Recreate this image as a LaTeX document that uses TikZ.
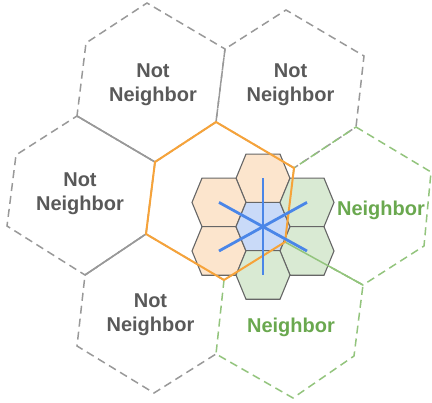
\documentclass[tikz,border=0pt]{standalone}
\usepackage{fontspec}
\setmainfont{Liberation Sans}
\definecolor{linegray}{HTML}{999999}
\definecolor{linegreen}{HTML}{93C47D}
\definecolor{lineorange}{HTML}{F6A33A}
\definecolor{starblue}{HTML}{4A86E8}
\definecolor{textgray}{HTML}{595959}
\definecolor{textgreen}{HTML}{6AA84F}
\definecolor{cellorange}{HTML}{FCE5CD}
\definecolor{cellgreen}{HTML}{D9EAD3}
\definecolor{cellblue}{HTML}{C9DAF8}
\newcommand{\lblfont}{\fontsize{20}{24.5}\selectfont\bfseries}

\begin{document}
\begin{tikzpicture}[x=1pt,y=-1pt,
	notedge/.style={draw=linegray,line width=1.5pt,dash pattern=on 8pt off 5pt},
	nbedge/.style={draw=linegreen,line width=1.5pt,dash pattern=on 8pt off 5pt},
	cell/.style={draw=black!60,line width=1.1pt},
	lbl/.style={font=\lblfont,text=textgray,align=center,inner sep=0pt}]
	\useasboundingbox (0,0) rectangle (432,403);
	% corners of the big cells
	\coordinate (A) at (147,3);   \coordinate (B) at (225,49);
	\coordinate (C) at (86,43);   \coordinate (D) at (77,116);
	\coordinate (E) at (216,122); \coordinate (F) at (155,162);
	\coordinate (G) at (286,10);  \coordinate (H) at (364,56);
	\coordinate (I) at (356,127); \coordinate (J) at (294,168);
	\coordinate (K) at (16,155);  \coordinate (L) at (7,226);
	\coordinate (M) at (85,275);  \coordinate (N) at (146,234);
	\coordinate (O) at (285,242); \coordinate (P) at (224,280);
	\coordinate (Q) at (431,172); \coordinate (R) at (424,246);
	\coordinate (S) at (363,285); \coordinate (T) at (354,356);
	\coordinate (U) at (293,398); \coordinate (V) at (216,354);
	\coordinate (W) at (77,346);  \coordinate (X) at (154,393);
	% not neighbors
	\draw[notedge] (F) -- (E) -- (B) -- (A) -- (C) -- (D) -- cycle;
	\draw[notedge] (J) -- (E) -- (B) -- (G) -- (H) -- (I) -- cycle;
	\draw[notedge] (D) -- (F) -- (N) -- (M) -- (L) -- (K) -- cycle;
	\draw[notedge] (P) -- (N) -- (M) -- (W) -- (X) -- (V);
	\draw[draw=linegray,line width=1.5pt] (D) -- (F);
	\draw[draw=linegray,line width=1.5pt] (M) -- (N);
	% neighbors
	\draw[nbedge] (I) -- (Q) -- (R) -- (S) -- (O) -- (J);
	\draw[nbedge,dash phase=6pt] (J) -- (I);
	\draw[nbedge] (O) -- (S) -- (T) -- (U) -- (V) -- (P) -- cycle;
	% fine cells
	\foreach \cx/\cy/\cf/\cn in {263/178.4/cellorange/ctop, 219/202.4/cellorange/cul,
			219/251/cellorange/cll, 263/226.7/cellblue/cmid, 307/202.4/cellgreen/cur,
			307/251/cellgreen/clr, 263/275/cellgreen/cbot}{
		\draw[cell,fill=\cf,shift={(\cx,\cy)}] (-27,0) -- (-17,-24.3) -- (17,-24.3)
			-- (27,0) -- (17,24.3) -- (-17,24.3) -- cycle;
		\coordinate (\cn) at (\cx,\cy);
	}
	\draw[draw=linegreen,line width=1.5pt] (O) -- (S);
	% origin cell
	\draw[lineorange,line width=2pt,line join=round] (E) -- (J) -- (O) -- (P) -- (N) -- (F) -- cycle;
	% star
	\draw[starblue,line width=2.8pt] (ctop) -- (cbot);
	\draw[starblue,line width=2.8pt] (cul) -- (clr);
	\draw[starblue,line width=2.8pt] (cll) -- (cur);
	% labels
	\node[lbl] (nn1) at (153,84.5) {Not\\Neighbor};
	\node[lbl] (nn2) at (290.5,84.5) {Not\\Neighbor};
	\node[lbl] (nn3) at (80,193.9) {Not\\Neighbor};
	\node[lbl] (nn4) at (150.5,314.5) {Not\\Neighbor};
	\node[lbl,text=textgreen,anchor=base] (nb1) at (381,216) {Neighbor};
	\node[lbl,text=textgreen,anchor=base] (nb2) at (291,332.3) {Neighbor};
\end{tikzpicture}
\end{document}
